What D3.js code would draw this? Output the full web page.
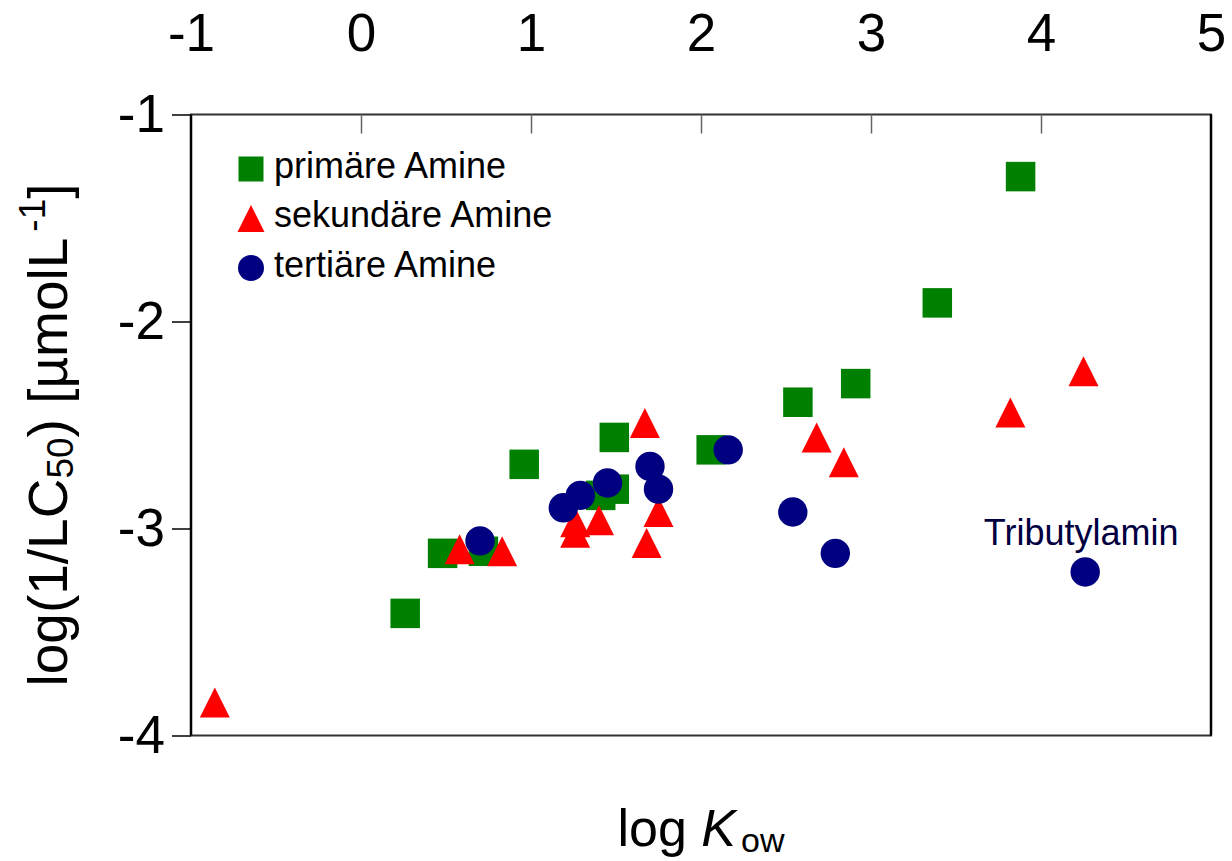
<!DOCTYPE html>
<html lang="de">
<head>
<meta charset="UTF-8">
<title>log(1/LC50) gegen log Kow</title>
<style>
    body { margin: 0; background: #fff; }
    svg text { font-family: "Liberation Sans", Arial, sans-serif; }
</style>
</head>
<body>
<svg id="chart" width="1232" height="861"></svg>
<script src="https://d3js.org/d3.v7.min.js"></script>
<script>
// data: [log Kow, log(1/LC50)]
var primaer = [
    [0.26, -3.41], [0.48, -3.12], [0.72, -3.11], [0.96, -2.69],
    [1.41, -2.84], [1.49, -2.81], [1.49, -2.56], [2.06, -2.62],
    [2.57, -2.39], [2.91, -2.30], [3.39, -1.91], [3.88, -1.30]
];
var sekundaer = [
    [-0.86, -3.84], [0.58, -3.10], [0.83, -3.11], [1.26, -2.97],
    [1.26, -3.02], [1.40, -2.96], [1.67, -2.49], [1.68, -3.07],
    [1.75, -2.92], [2.68, -2.56], [2.84, -2.68], [3.82, -2.44],
    [4.25, -2.24]
];
var tertiaer = [
    [0.70, -3.06], [1.19, -2.90], [1.29, -2.84], [1.45, -2.78],
    [1.70, -2.70], [1.75, -2.81], [2.16, -2.62], [2.54, -2.92],
    [2.79, -3.12], [4.26, -3.21]
];
var xTicks = [-1, 0, 1, 2, 3, 4, 5];
var yTicks = [-1, -2, -3, -4];
var seriesNames = ["primäre Amine", "sekundäre Amine", "tertiäre Amine"];
var labelPoint = { name: "Tributylamin", x: 4.26, y: -3.21 };

var svg = d3.select("#chart");
var pLeft = 191, pRight = 1211, pTop = 114.5, pBottom = 735.5;

var x = d3.scaleLinear().domain([-1, 5]).range([pLeft, pRight]);
var y = d3.scaleLinear().domain([-4, -1]).range([pBottom, pTop]);

// plot box
svg.append("rect")
    .attr("x", pLeft).attr("y", pTop)
    .attr("width", pRight - pLeft).attr("height", pBottom - pTop)
    .attr("fill", "none").attr("stroke", "#333").attr("stroke-width", 2);
svg.append("line").attr("x1", pLeft).attr("x2", pLeft).attr("y1", pTop).attr("y2", pBottom)
    .attr("stroke", "#000").attr("stroke-width", 2.5);
svg.append("line").attr("x1", pRight).attr("x2", pRight).attr("y1", pTop).attr("y2", pBottom)
    .attr("stroke", "#000").attr("stroke-width", 2.5);

// x axis on top, ticks pointing inwards
var xAxis = svg.append("g")
    .attr("transform", "translate(0," + pTop + ")")
    .call(d3.axisTop(x).tickValues(xTicks).tickSizeInner(-19).tickSizeOuter(0)
        .tickPadding(64).tickFormat(d3.format("d")));
xAxis.select(".domain").remove();
xAxis.selectAll(".tick line").attr("stroke", "#666").attr("stroke-width", 1.5);
xAxis.selectAll(".tick").filter(function(d) { return d == -1 || d == 5; }).select("line").remove();
xAxis.selectAll("text").attr("font-size", 53).attr("fill", "#000")
    .attr("font-family", "Liberation Sans, Arial, sans-serif")
    .text(function(d) { return d < 0 ? "-" + Math.abs(d) : d; });

// y axis on the left
var yAxis = svg.append("g")
    .attr("transform", "translate(" + pLeft + ",0)")
    .call(d3.axisLeft(y).tickValues(yTicks).tickSize(19).tickPadding(7));
yAxis.select(".domain").remove();
yAxis.selectAll(".tick line").attr("stroke", "#000").attr("stroke-width", 1.5);
yAxis.selectAll("text").attr("font-size", 53).attr("fill", "#000")
    .attr("font-family", "Liberation Sans, Arial, sans-serif")
    .text(function(d) { return "-" + Math.abs(d); });

// axis titles
var xt = svg.append("text").attr("x", (pLeft + pRight) / 2).attr("y", 846)
    .attr("text-anchor", "middle").attr("font-size", 52).attr("fill", "#000");
xt.append("tspan").text("log ");
xt.append("tspan").attr("font-style", "italic").text("K");
xt.append("tspan").attr("font-size", 34).attr("dy", 6).attr("dx", 5).text("ow");

var yt = svg.append("text")
    .attr("transform", "translate(67," + ((pTop + pBottom) / 2 + 10) + ") rotate(-90)")
    .attr("text-anchor", "middle").attr("font-size", 55).attr("fill", "#000");
yt.append("tspan").text("log(1/LC");
yt.append("tspan").attr("font-size", 37).attr("dy", 6).text("50");
yt.append("tspan").attr("dy", -6).text(") [µmolL");
yt.append("tspan").attr("font-size", 37).attr("dy", -22).attr("dx", 6).text("-1");
yt.append("tspan").attr("dy", 22).text("]");

// marker shapes
var square = d3.symbol().type(d3.symbolSquare).size(29.5 * 29.5);
function triPath(w) {
    var h = w / 2;
    return "M0," + (-h) + "L" + h + "," + h + "L" + (-h) + "," + h + "Z";
}

var plot = svg.append("g");

plot.selectAll(".sq").data(primaer).join("path")
    .attr("class", "sq")
    .attr("d", square)
    .attr("transform", function(d) { return "translate(" + x(d[0]) + "," + y(d[1]) + ")"; })
    .attr("fill", "#008000");

plot.selectAll(".tri").data(sekundaer).join("path")
    .attr("class", "tri")
    .attr("d", triPath(30))
    .attr("transform", function(d) { return "translate(" + x(d[0]) + "," + y(d[1]) + ")"; })
    .attr("fill", "#ff0000");

plot.selectAll(".dot").data(tertiaer).join("circle")
    .attr("class", "dot")
    .attr("cx", function(d) { return x(d[0]); })
    .attr("cy", function(d) { return y(d[1]); })
    .attr("r", 14.7)
    .attr("fill", "#000080");

// label of the outlier
svg.append("text")
    .attr("x", x(labelPoint.x) - 4).attr("y", y(labelPoint.y) - 27)
    .attr("text-anchor", "middle").attr("font-size", 36).attr("fill", "#000040")
    .text(labelPoint.name);

// legend
var legend = svg.append("g").attr("transform", "translate(251,169)");
var rows = legend.selectAll("g").data(seriesNames).join("g")
    .attr("transform", function(d, i) { return "translate(0," + (i * 49.5) + ")"; });
rows.each(function(d, i) {
    var g = d3.select(this);
    if (i == 0) {
        g.append("path").attr("d", d3.symbol().type(d3.symbolSquare).size(25 * 25)).attr("fill", "#008000");
    } else if (i == 1) {
        g.append("path").attr("d", triPath(27)).attr("fill", "#ff0000");
    } else {
        g.append("circle").attr("r", 13).attr("fill", "#000080");
    }
    g.append("text").attr("x", 23).attr("y", 8.5).attr("font-size", 36).attr("fill", "#000").text(d);
});
</script>
</body>
</html>
